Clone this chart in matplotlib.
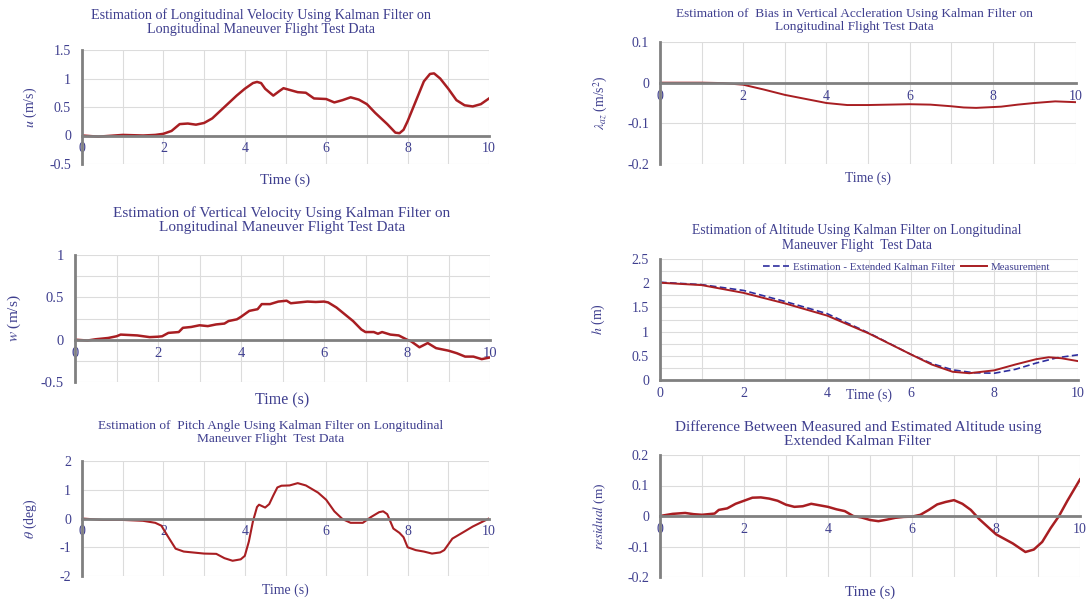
import matplotlib
matplotlib.use("Agg")
import matplotlib.pyplot as plt
from matplotlib.ticker import MultipleLocator

plt.rcParams['font.family'] = ['Liberation Serif', 'DejaVu Serif']
plt.rcParams['mathtext.fontset'] = 'stix'

TXT = '#3f3f8f'
RED = '#a81e22'
BLUE = '#2e2e9e'
GRID = '#dcdcdc'
SPINE = '#808080'

# --- data ---
u_t = [0, 0.4, 1.0, 1.5, 1.8, 2.0, 2.2, 2.4, 2.6, 2.8, 3.0, 3.2, 3.5, 3.8, 4.0, 4.2, 4.3, 4.4,
       4.5, 4.7, 4.85, 4.95, 5.1, 5.3, 5.5, 5.7, 6.0, 6.2, 6.4, 6.6, 6.8, 7.0, 7.2, 7.5, 7.7,
       7.8, 7.9, 8.0, 8.2, 8.4, 8.55, 8.65, 8.8, 9.0, 9.2, 9.4, 9.6, 9.8, 10]
u_val = [0, -0.02, 0.01, 0.0, 0.01, 0.03, 0.08, 0.2, 0.21, 0.19, 0.22, 0.3, 0.5, 0.7, 0.82,
         0.92, 0.94, 0.92, 0.82, 0.7, 0.78, 0.83, 0.8, 0.76, 0.75, 0.65, 0.64, 0.58, 0.62, 0.67,
         0.63, 0.55, 0.4, 0.2, 0.05, 0.04, 0.1, 0.25, 0.6, 0.95, 1.08, 1.09, 1.0, 0.82, 0.62,
         0.53, 0.51, 0.55, 0.65]

lam_t = [0, 1.0, 1.5, 2.0, 2.5, 3.0, 3.5, 4.0, 4.5, 5.0, 5.5, 6.0, 6.5, 7.0, 7.3, 7.6, 8.2,
         8.6, 9.0, 9.5, 10]
lam_val = [0, 0, -0.001, -0.005, -0.017, -0.03, -0.04, -0.05, -0.055, -0.055, -0.054, -0.053,
           -0.054, -0.058, -0.061, -0.062, -0.059, -0.054, -0.05, -0.046, -0.048]

w_t = [0, 0.3, 0.5, 0.8, 1.0, 1.1, 1.3, 1.5, 1.8, 2.0, 2.1, 2.25, 2.5, 2.6, 2.8, 3.0, 3.2,
       3.4, 3.6, 3.7, 3.9, 4.0, 4.2, 4.4, 4.5, 4.7, 4.9, 5.1, 5.2, 5.4, 5.6, 5.8, 6.0, 6.1, 6.3,
       6.5, 6.7, 6.9, 7.0, 7.2, 7.3, 7.4, 7.6, 7.8, 8.0, 8.1, 8.3, 8.5, 8.7, 9.0, 9.2, 9.4,
       9.6, 9.8, 10]
w_val = [0, -0.01, 0.005, 0.02, 0.04, 0.06, 0.055, 0.05, 0.03, 0.035, 0.04, 0.08, 0.09, 0.14,
         0.15, 0.17, 0.16, 0.18, 0.19, 0.22, 0.24, 0.27, 0.34, 0.36, 0.42, 0.42, 0.45, 0.46,
         0.43, 0.44, 0.45, 0.445, 0.45, 0.44, 0.38, 0.3, 0.22, 0.12, 0.09, 0.09, 0.07, 0.09,
         0.06, 0.05, 0.0, -0.02, -0.09, -0.04, -0.1, -0.13, -0.16, -0.2, -0.2, -0.23, -0.21]

h_t = [0, 1, 2, 3, 4, 5, 6, 6.5, 7, 7.4, 8, 8.5, 9, 9.3, 9.6, 10]
h_meas = [2.01, 1.96, 1.8, 1.58, 1.33, 0.96, 0.53, 0.32, 0.17, 0.14, 0.2, 0.32, 0.43, 0.47,
          0.45, 0.39]
he_t = [0, 1, 2, 3, 4, 5, 6, 6.5, 7, 7.5, 8, 8.5, 9, 9.5, 10]
h_est = [2.02, 1.97, 1.85, 1.62, 1.37, 0.97, 0.53, 0.34, 0.21, 0.15, 0.14, 0.22, 0.35, 0.46,
         0.52]

th_t = [0, 0.5, 1.0, 1.5, 1.8, 1.95, 2.1, 2.3, 2.5, 3.0, 3.3, 3.5, 3.7, 3.9, 4.0, 4.1, 4.2,
        4.3, 4.35, 4.5, 4.6, 4.7, 4.8, 4.9, 5.1, 5.3, 5.5, 5.8, 6.0, 6.2, 6.4, 6.6, 6.9, 7.1,
        7.3, 7.4, 7.5, 7.65, 7.8, 7.9, 8.0, 8.2, 8.4, 8.6, 8.8, 8.9, 9.1, 9.4, 9.6, 10]
th_val = [0, -0.05, -0.05, -0.08, -0.15, -0.25, -0.6, -1.05, -1.15, -1.22, -1.23, -1.38,
          -1.47, -1.42, -1.3, -0.8, -0.1, 0.4, 0.48, 0.38, 0.5, 0.8, 1.08, 1.14, 1.15, 1.23,
          1.15, 0.9, 0.65, 0.25, -0.02, -0.15, -0.15, 0.05, 0.22, 0.25, 0.15, -0.35, -0.5,
          -0.65, -1.0, -1.1, -1.15, -1.22, -1.18, -1.1, -0.7, -0.45, -0.28, 0.0]

r_t = [0, 0.3, 0.6, 0.8, 1.0, 1.3, 1.4, 1.6, 1.8, 2.0, 2.2, 2.4, 2.6, 2.8, 3.0, 3.2, 3.4, 3.6,
       3.8, 4.0, 4.2, 4.4, 4.6, 4.8, 5.0, 5.2, 5.4, 5.6, 5.8, 6.0, 6.2, 6.4, 6.6, 6.8, 7.0,
       7.2, 7.4, 7.6, 7.8, 8.0, 8.2, 8.4, 8.7, 8.9, 9.1, 9.3, 9.5, 9.7, 10]
r_val = [0, 0.007, 0.01, 0.006, 0.004, 0.008, 0.02, 0.025, 0.04, 0.05, 0.06, 0.061, 0.057,
         0.05, 0.037, 0.03, 0.032, 0.04, 0.035, 0.03, 0.022, 0.016, 0.0, -0.005, -0.013,
         -0.017, -0.012, -0.006, -0.003, -0.002, 0.004, 0.02, 0.038, 0.046, 0.052, 0.04, 0.02,
         -0.01, -0.035, -0.06, -0.075, -0.09, -0.118, -0.11, -0.085, -0.04, 0.0, 0.05, 0.12]

W, H = 1088, 601


def make_axes(fig, x0, x1, y_top, y_bot):
    return fig.add_axes([x0 / W, 1 - y_bot / H, (x1 - x0) / W, (y_bot - y_top) / H])


def style(ax, ylim, ystep, yminor=None, fs=10):
    ax.set_xlim(0, 10)
    ax.set_ylim(*ylim)
    ax.xaxis.set_major_locator(MultipleLocator(2))
    ax.xaxis.set_minor_locator(MultipleLocator(1))
    ax.yaxis.set_major_locator(MultipleLocator(ystep))
    if yminor:
        ax.yaxis.set_minor_locator(MultipleLocator(yminor))
    ax.grid(True, which='both', color=GRID, lw=0.8)
    ax.set_axisbelow(True)
    for s in ('top', 'right'):
        ax.spines[s].set_visible(False)
    ax.spines['bottom'].set_position(('data', 0))
    for s in ('bottom', 'left'):
        ax.spines[s].set_color(SPINE)
        ax.spines[s].set_linewidth(2)
    ax.tick_params(which='both', length=0, colors=TXT, labelsize=fs)
    ax.tick_params(axis='x', pad=5)
    ax.tick_params(axis='y', pad=8)
    ax.yaxis.set_major_formatter(matplotlib.ticker.FuncFormatter(lambda v, p: f'{v:g}'))


def labels(ax, title, tx, ty, tfs, ylab, ylx, yfs, xly, xfs, xlx=0.5):
    ax.set_title(title, x=tx, y=ty, pad=0, va='center', fontsize=tfs, color=TXT,
                 linespacing=1.15)
    ax.set_ylabel(ylab, color=TXT, fontsize=yfs, va='center', ha='center')
    ax.yaxis.set_label_coords(ylx, 0.5)
    ax.set_xlabel('Time (s)', color=TXT, fontsize=xfs, va='center', ha='center')
    ax.xaxis.set_label_coords(xlx, xly)


fig = plt.figure(figsize=(W / 100, H / 100), dpi=100)

# top-left: u
ax1 = make_axes(fig, 82, 489, 50, 164)
ax1.plot(u_t, u_val, color=RED, lw=1.8)
style(ax1, (-0.5, 1.5), 0.5)
labels(ax1, 'Estimation of Longitudinal Velocity Using Kalman Filter on\n'
       'Longitudinal Maneuver Flight Test Data', 0.44, 1.246, 10.2,
       r'$u$ (m/s)', -0.128, 10, -0.14, 10.7)

# top-right: lambda
ax2 = make_axes(fig, 660, 1076, 42, 164)
ax2.plot(lam_t, lam_val, color=RED, lw=1.4)
style(ax2, (-0.2, 0.1), 0.1)
labels(ax2, 'Estimation of  Bias in Vertical Accleration Using Kalman Filter on\n'
       'Longitudinal Flight Test Data', 0.467, 1.176, 9.6,
       r'$\lambda_{az}$ (m/s$^2$)', -0.142, 9.8, -0.115, 9.8)

# mid-left: w
ax3 = make_axes(fig, 75, 490, 255, 382)
ax3.plot(w_t, w_val, color=RED, lw=1.8)
style(ax3, (-0.5, 1.0), 0.5, 0.25, fs=10.5)
labels(ax3, 'Estimation of Vertical Velocity Using Kalman Filter on\n'
       'Longitudinal Maneuver Flight Test Data', 0.499, 1.276, 11,
       r'$w$ (m/s)', -0.145, 11, -0.142, 11.5)

# mid-right: h
ax4 = make_axes(fig, 660, 1078, 259, 380)
ax4.plot(he_t, h_est, color=BLUE, lw=1.2, ls=(0, (4, 2)),
         label='Estimation - Extended Kalman Filter')
ax4.plot(h_t, h_meas, color=RED, lw=1.4, label='Measurement')
style(ax4, (0, 2.5), 0.5, 0.25)
labels(ax4, 'Estimation of Altitude Using Kalman Filter on Longitudinal\n'
       'Maneuver Flight  Test Data', 0.471, 1.178, 9.8,
       r'$h$ (m)', -0.148, 10, -0.124, 9.8)
ax4.legend(loc='center', bbox_to_anchor=(0.59, 0.934), ncol=2, frameon=False,
           fontsize=7.8, labelcolor=TXT, handlelength=2.4, handletextpad=0.3,
           columnspacing=0.6, borderpad=0)

# bottom-left: theta
ax5 = make_axes(fig, 82, 489, 461, 576)
ax5.plot(th_t, th_val, color=RED, lw=1.5)
style(ax5, (-2, 2), 1)
labels(ax5, 'Estimation of  Pitch Angle Using Kalman Filter on Longitudinal\n'
       'Maneuver Flight  Test Data', 0.464, 1.248, 9.6,
       r'$\theta$ (deg)', -0.128, 10, -0.122, 10)

# bottom-right: residual
ax6 = make_axes(fig, 660, 1080, 455, 577)
ax6.plot(r_t, r_val, color=RED, lw=1.8)
style(ax6, (-0.2, 0.2), 0.1)
labels(ax6, 'Difference Between Measured and Estimated Altitude using\n'
       'Extended Kalman Filter', 0.471, 1.172, 11,
       r'$residual$ (m)', -0.143, 9.5, -0.123, 10.7)

fig.savefig('out.png', dpi=100)
